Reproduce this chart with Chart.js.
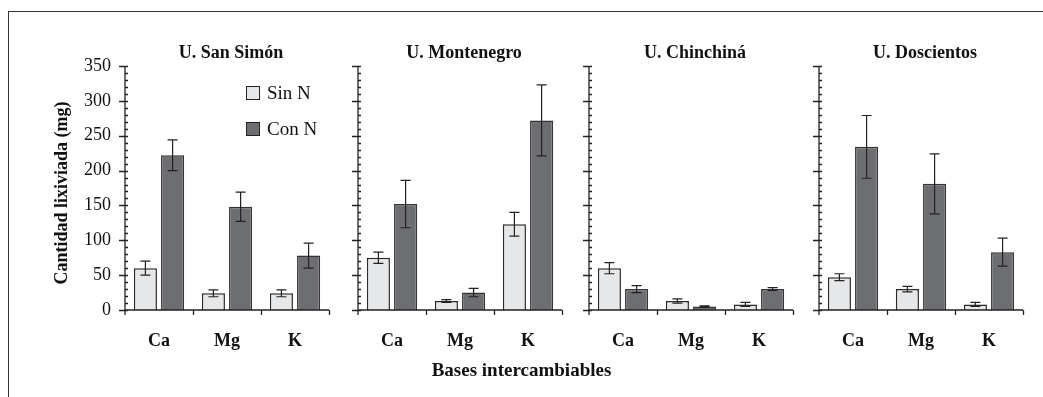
<!DOCTYPE html>
<html>
<head>
<meta charset="utf-8">
<script src="https://cdn.jsdelivr.net/npm/chart.js@4.4.1/dist/chart.umd.min.js"></script>
<style>
  body { margin: 0; background: #fff; }
  #wrap { position: relative; width: 1043px; height: 397px; overflow: hidden; }
  #frame { position: absolute; left: 8px; top: 11px; width: 1100px; height: 500px;
           border-left: 1.5px solid #333; border-top: 1.5px solid #333; }
  canvas { position: absolute; top: 0; }
  .legend { position: absolute; left: 246px; font: 19px "Liberation Serif", serif; color: #111; }
  .legend div { height: 36px; display: flex; align-items: center; }
  .legend span.box { display: inline-block; width: 12px; height: 12px; border: 1px solid #222; margin-right: 7px; }
  #xtitle { position: absolute; left: 0; width: 1043px; top: 359px; text-align: center;
            font: bold 19px "Liberation Serif", serif; color: #111; }
</style>
</head>
<body>
<div id="wrap">
  <div id="frame"></div>
  <canvas id="c0" width="335" height="397" style="left:0px"></canvas>
  <canvas id="c1" width="228" height="397" style="left:340px"></canvas>
  <canvas id="c2" width="228" height="397" style="left:571px"></canvas>
  <canvas id="c3" width="228" height="397" style="left:801px"></canvas>
  <div class="legend" id="legend" style="top:75px"></div>
  <div id="xtitle">Bases intercambiables</div>
</div>
<script>
// leached bases (mg) per site, without and with N fertiliser
const categories = ['Ca', 'Mg', 'K'];
const sites = ['U. San Simón', 'U. Montenegro', 'U. Chinchiná', 'U. Doscientos'];
const seriesNames = ['Sin N', 'Con N'];

const sinN = [[60, 24, 24], [75, 13, 123], [60, 13, 8], [47, 30, 8]];
const sinNErr = [[10, 5, 5], [8, 2, 17], [8, 3, 3], [5, 4, 3]];
const conN = [[222, 148, 78], [152, 25, 272], [30, 5, 30], [234, 181, 83]];
const conNErr = [[22, 21, 18], [34, 6, 51], [5, 1, 2], [45, 43, 20]];

const yTicks = [0, 50, 100, 150, 200, 250, 300, 350];

const fillColors = ['#e6e7e9', '#6d6e71'];
const edgeColors = ['#2a2a2a', '#333333'];
const serif = '"Liberation Serif", "Times New Roman", serif';

Chart.defaults.font.family = serif;
Chart.defaults.color = '#111';

// axis lines, major/minor ticks, error bars and panel title
const panelDecor = {
  id: 'panelDecor',
  afterDatasetsDraw(chart, args, opts) {
    const ctx = chart.ctx;
    const a = chart.chartArea;
    const x = chart.scales.x, y = chart.scales.y;

    // error bars
    ctx.save();
    ctx.strokeStyle = '#222';
    ctx.lineWidth = 1.2;
    chart.data.datasets.forEach((ds, di) => {
      const meta = chart.getDatasetMeta(di);
      meta.data.forEach((bar, i) => {
        const e = ds.errors[i];
        const top = y.getPixelForValue(ds.data[i] + e);
        const bot = y.getPixelForValue(ds.data[i] - e);
        ctx.beginPath();
        ctx.moveTo(bar.x, top); ctx.lineTo(bar.x, bot);
        ctx.moveTo(bar.x - 5, top); ctx.lineTo(bar.x + 5, top);
        ctx.moveTo(bar.x - 5, bot); ctx.lineTo(bar.x + 5, bot);
        ctx.stroke();
      });
    });

    // axes
    ctx.strokeStyle = '#222';
    ctx.lineWidth = 1.3;
    ctx.beginPath();
    ctx.moveTo(a.left, a.top); ctx.lineTo(a.left, a.bottom + 5);
    ctx.moveTo(a.left, a.bottom); ctx.lineTo(a.right, a.bottom);
    for (let v = 0; v <= 350; v += 10) {
      const py = Math.round(y.getPixelForValue(v)) + 0.5;
      if (v % 50 === 0) {
        ctx.moveTo(a.left - 6, py); ctx.lineTo(a.left + 3, py);
      } else {
        ctx.moveTo(a.left, py); ctx.lineTo(a.left + 3, py);
      }
    }
    const step = x.getPixelForValue(1) - x.getPixelForValue(0);
    for (let i = 1; i <= categories.length; i++) {
      const px = Math.round(x.getPixelForValue(i) - step / 2) + 0.5;
      ctx.moveTo(px, a.bottom); ctx.lineTo(px, a.bottom + 5);
    }
    ctx.stroke();

    // title
    ctx.fillStyle = '#111';
    ctx.font = 'bold 18px ' + serif;
    ctx.textAlign = 'center';
    ctx.textBaseline = 'alphabetic';
    ctx.fillText(opts.title, (a.left + a.right) / 2 + 4, 58);

    if (opts.yTitle) {
      ctx.translate(67, 193);
      ctx.rotate(-Math.PI / 2);
      ctx.fillText(opts.yTitle, 0, 0);
    }
    ctx.restore();
  }
};

function makePanel(idx) {
  const first = idx === 0;
  new Chart(document.getElementById('c' + idx), {
    type: 'bar',
    data: {
      labels: categories,
      datasets: [
        { label: seriesNames[0], data: sinN[idx], errors: sinNErr[idx],
          backgroundColor: fillColors[0], borderColor: edgeColors[0], borderWidth: 1.5 },
        { label: seriesNames[1], data: conN[idx], errors: conNErr[idx],
          backgroundColor: fillColors[1], borderColor: edgeColors[1], borderWidth: 1.5 }
      ]
    },
    options: {
      responsive: false,
      animation: false,
      layout: { padding: { top: 66, right: 6, left: 0, bottom: 0 } },
      categoryPercentage: 0.8,
      barPercentage: 0.85,
      plugins: {
        legend: { display: false },
        tooltip: { enabled: false },
        panelDecor: { title: sites[idx], yTitle: first ? 'Cantidad lixiviada (mg)' : null }
      },
      scales: {
        x: {
          grid: { display: false, drawTicks: false },
          border: { display: false },
          ticks: { padding: 21, font: { size: 18, weight: 'bold' }, color: '#111' },
          afterFit: s => { s.height = 87; }
        },
        y: {
          min: 0, max: 350,
          afterBuildTicks: s => { s.ticks = yTicks.map(v => ({ value: v })); },
          grid: { display: false, drawTicks: false },
          border: { display: false },
          ticks: { display: first, padding: 14, font: { size: 18 }, color: '#111' },
          afterFit: s => { s.width = first ? 125 : 18; }
        }
      }
    },
    plugins: [panelDecor]
  });
}

sites.forEach((s, i) => makePanel(i));

// legend for the first panel
const legend = document.getElementById('legend');
seriesNames.forEach((name, i) => {
  const row = document.createElement('div');
  row.innerHTML = '<span class="box" style="background:' + fillColors[i] + '"></span>' + name;
  legend.appendChild(row);
});
</script>
</body>
</html>
